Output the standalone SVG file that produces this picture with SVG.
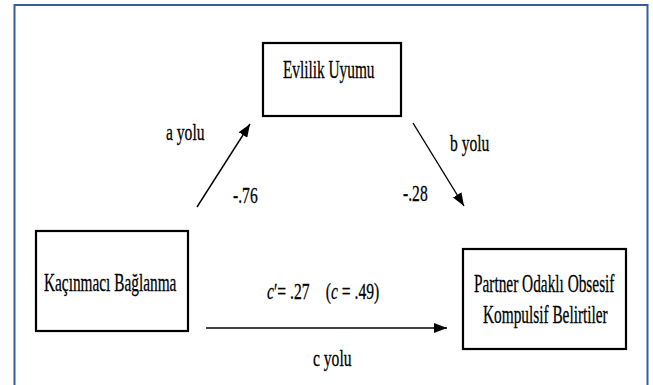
<svg xmlns="http://www.w3.org/2000/svg" width="653" height="385" viewBox="0 0 653 385">
<style>
.box{fill:#fff;stroke:#000;stroke-width:2.2}
.conn{stroke:#000;stroke-width:1.4;fill:none}
.t{font-family:'Liberation Serif','Times New Roman',serif;font-size:26px;fill:#000;stroke:#000;stroke-width:0.3}
.l{font-family:'Liberation Serif','Times New Roman',serif;font-size:24px;fill:#000;stroke:#000;stroke-width:0.3}
</style>
<defs>
<marker id="ah" markerUnits="userSpaceOnUse" markerWidth="14" markerHeight="10" refX="13" refY="5" orient="auto">
<path d="M0,0 L13,5 L0,10 z" fill="#000"/>
</marker>
</defs>
<rect width="653" height="385" fill="#fff"/>
<rect x="14.5" y="5" width="633" height="400" fill="none" stroke="#3a5a9a" stroke-width="2"/>
<g id="connectors">
<line class="conn" x1="197" y1="207" x2="250" y2="124" marker-end="url(#ah)"/>
<line class="conn" x1="413" y1="123" x2="464" y2="206" marker-end="url(#ah)"/>
<line class="conn" x1="206" y1="328" x2="447" y2="328" marker-end="url(#ah)"/>
<text class="l" transform="translate(166,140) scale(0.65,1)">a yolu</text>
<text class="l" transform="translate(233,203) scale(0.65,1)">-.76</text>
<text class="l" transform="translate(450,151) scale(0.65,1)">b yolu</text>
<text class="l" transform="translate(403,201) scale(0.65,1)">-.28</text>
<text class="l" transform="translate(267,299) scale(0.65,1)"><tspan font-style="italic">c</tspan>′= .27<tspan dx="25">(</tspan><tspan font-style="italic">c</tspan> = .49)</text>
<text class="l" transform="translate(313,366) scale(0.65,1)">c yolu</text>
</g>
<g id="evlilik">
<rect class="box" x="263" y="43" width="138" height="73"/>
<text class="t" transform="translate(283,78) scale(0.59,1)">Evlilik Uyumu</text>
</g>
<g id="kacinmaci">
<rect class="box" x="36" y="231" width="152" height="100"/>
<text class="t" transform="translate(44,291) scale(0.59,1)">Kaçınmacı Bağlanma</text>
</g>
<g id="partner">
<rect class="box" x="463" y="249" width="163" height="100"/>
<text class="t" transform="translate(474,292) scale(0.59,1)">Partner Odaklı Obsesif</text>
<text class="t" transform="translate(483,323) scale(0.59,1)">Kompulsif Belirtiler</text>
</g>
</svg>
